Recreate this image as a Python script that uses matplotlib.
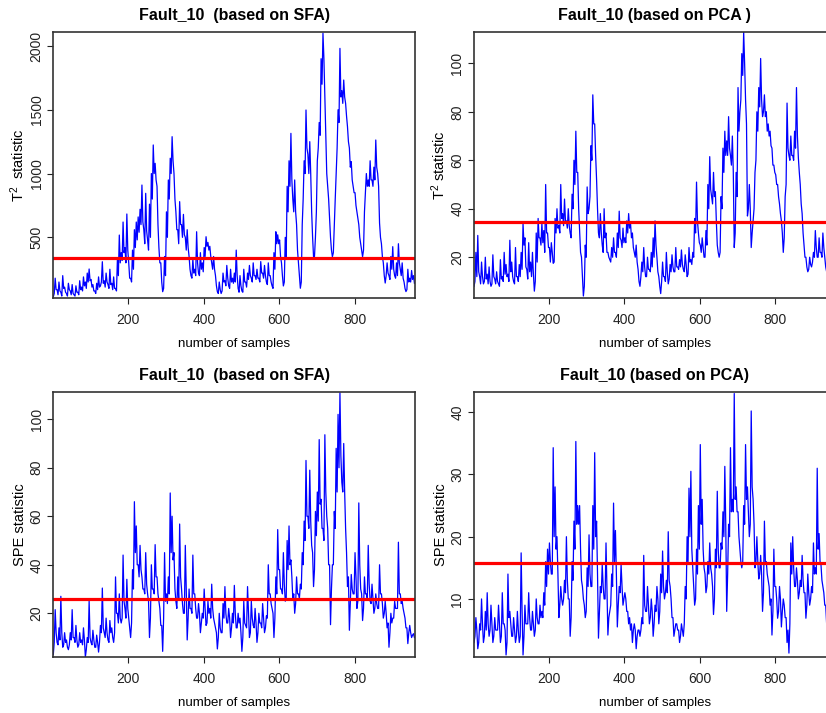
import numpy as np
import matplotlib
matplotlib.use("Agg")
import matplotlib.pyplot as plt

plt.rcParams["font.family"] = ["Liberation Sans", "DejaVu Sans"]

# values: a local peak every 5 samples ...
samples = np.arange(1, 961, 5)
# ... and the local trough half way between them
samples_mid = samples + 2.5

t2_sfa = [
    35, 180, 90, 150, 70, 200, 110, 60, 140, 80, 130, 50,
    120, 70, 160, 110, 190, 150, 220, 252, 170, 130, 80, 140,
    190, 120, 309, 160, 220, 130, 250, 140, 190, 100, 330, 518,
    380, 620, 420, 683, 300, 179, 400, 560, 620, 660, 720, 910,
    560, 845, 480, 760, 1000, 1224, 1080, 900, 420, 300, 74, 350,
    700, 950, 1120, 1289, 1000, 700, 560, 780, 600, 680, 500, 560,
    350, 200, 330, 250, 544, 220, 380, 300, 420, 505, 460, 430,
    300, 350, 200, 74, 150, 60, 220, 160, 280, 120, 250, 180,
    220, 400, 100, 200, 80, 250, 150, 220, 280, 180, 300, 200,
    250, 180, 310, 220, 280, 150, 300, 200, 120, 380, 544, 520,
    480, 300, 119, 500, 900, 1100, 1315, 800, 950, 600, 300, 101,
    600, 1100, 1498, 1150, 1250, 700, 348, 500, 1100, 1400, 1900, 2100,
    1600, 1000, 800, 500, 348, 600, 1000, 1500, 1981, 1650, 1733, 1550,
    1367, 1200, 1093, 900, 850, 700, 600, 450, 348, 700, 1000, 950,
    1100, 950, 1050, 1263, 1000, 612, 450, 300, 142, 300, 200, 350,
    427, 200, 300, 450, 250, 300, 150, 75, 250, 180, 240, 200,
]
t2_sfa_low = [
    60, 90, 50, 80, 40, 100, 70, 40, 90, 50, 60, 40,
    70, 50, 90, 80, 120, 100, 150, 160, 110, 80, 60, 90,
    110, 150, 140, 110, 150, 100, 130, 90, 100, 80, 200, 300,
    320, 380, 300, 400, 180, 150, 250, 420, 480, 540, 600, 620,
    450, 550, 400, 500, 800, 1000, 950, 600, 300, 150, 100, 200,
    500, 800, 1000, 1100, 800, 560, 450, 600, 500, 520, 400, 420,
    250, 180, 220, 200, 300, 200, 250, 230, 350, 430, 400, 350,
    250, 250, 120, 60, 90, 80, 150, 120, 180, 100, 150, 140,
    150, 200, 70, 120, 70, 150, 110, 170, 200, 150, 200, 170,
    180, 150, 220, 180, 200, 130, 200, 150, 100, 250, 450, 450,
    350, 200, 150, 350, 700, 900, 950, 700, 700, 400, 200, 150,
    800, 1000, 1200, 1000, 1000, 500, 350, 700, 1200, 1300, 1700, 1900,
    1300, 900, 650, 400, 380, 800, 1200, 1400, 1600, 1550, 1600, 1450,
    1250, 1050, 950, 850, 750, 650, 500, 400, 400, 850, 900, 900,
    950, 900, 950, 1050, 900, 500, 350, 200, 200, 220, 170, 250,
    250, 180, 200, 300, 200, 180, 100, 90, 150, 150, 170, 140,
]

t2_pca = [
    8, 22, 29, 12, 18, 9, 20, 13, 16, 8, 21, 11,
    14, 9, 19, 12, 22, 17, 13, 27, 18, 10, 24, 12,
    17, 22, 34, 28, 15, 26, 18, 22, 6, 30, 36, 28,
    34, 31, 50, 30, 24, 26, 17.5, 36, 40, 33, 50, 38,
    44, 35, 40, 30, 46, 60, 72, 55, 31, 20, 4, 25,
    49, 40, 66, 87, 75, 52, 30, 38, 25, 40, 30, 22,
    19, 24, 28, 22, 30, 39, 27, 32, 28, 35, 38, 34,
    30, 22, 25, 15, 8, 18, 24, 12, 20, 15, 22, 28,
    35, 20, 12, 5, 18, 12, 22, 9, 17, 21, 14, 24,
    16, 19, 23, 15, 21, 12, 24, 19, 22, 36, 51, 30,
    25, 28, 20, 31, 50, 61.5, 45, 55, 47, 25, 20, 45,
    65, 72, 68, 78, 62, 70, 24, 55, 90, 80, 104, 113,
    85, 37, 50, 24, 35, 55, 80, 90, 102, 78, 87, 80,
    75, 72, 65, 58, 54, 50, 42, 35, 22, 45, 83.6, 62,
    70, 62, 72, 90, 61, 50, 38, 25, 20, 14, 20, 16,
    22, 31, 20, 28, 22, 30, 20, 14, 6.5, 18, 10, 14,
]
t2_pca_low = [
    10, 12, 14, 9, 12, 10, 11, 9, 10, 9, 12, 9,
    10, 8, 11, 10, 13, 12, 10, 14, 12, 9, 12, 10,
    12, 15, 25, 16, 11, 14, 12, 13, 10, 18, 28, 25,
    26, 22, 30, 24, 18, 22, 18, 30, 32, 30, 36, 33,
    35, 32, 33, 28, 40, 50, 55, 40, 22, 12, 8, 20,
    38, 45, 60, 75, 62, 40, 28, 30, 22, 28, 22, 20,
    18, 20, 22, 20, 24, 28, 24, 26, 26, 30, 32, 28,
    24, 20, 18, 10, 12, 14, 16, 12, 15, 14, 16, 20,
    25, 14, 8, 10, 12, 10, 14, 11, 14, 16, 14, 16,
    15, 16, 17, 14, 17, 13, 18, 17, 20, 30, 35, 26,
    22, 24, 20, 25, 40, 48, 42, 45, 35, 22, 22, 40,
    55, 62, 62, 65, 58, 55, 30, 45, 72, 85, 95, 100,
    75, 40, 40, 30, 40, 60, 72, 82, 85, 80, 78, 72,
    70, 66, 58, 55, 50, 45, 38, 30, 28, 50, 65, 60,
    62, 60, 65, 70, 55, 42, 30, 20, 16, 15, 17, 18,
    20, 24, 20, 22, 20, 24, 16, 10, 10, 14, 12, 12,
]

spe_sfa = [
    3, 21.5, 8, 14, 27, 6, 12, 9, 5, 12, 21.5, 10,
    15, 6, 12, 9, 14, 2, 10, 25, 8, 13, 6, 11,
    4, 15, 30.4, 12, 18, 9, 17, 14, 8, 35, 20, 28,
    16, 44, 22, 34, 18, 10, 38, 66, 56, 40, 48, 35,
    30, 45, 28, 10, 40, 30, 48.3, 35, 25, 15, 4.3, 45,
    28, 35, 69.6, 60, 45, 25, 35, 56.8, 30, 20, 48, 9,
    30, 22, 44, 28, 18, 24, 12, 20, 30, 15, 25, 22,
    32, 18, 14, 5.3, 20, 12, 24, 31, 16, 22, 10, 20,
    31.5, 14, 20, 18, 4.3, 25, 15, 31, 10, 25, 15, 22,
    8, 20, 16, 24, 12, 19, 40, 28, 22, 10, 35, 54.5,
    38, 30, 45, 25, 50, 56, 42, 26, 20, 35, 28, 32,
    45, 58, 83, 60, 79, 48, 31, 62, 70, 91.6, 67, 55,
    93.6, 60, 40, 15.3, 40, 62, 88, 102, 110.9, 74, 90, 55,
    31, 13, 36, 28, 45, 22, 65.5, 30, 17, 35, 28, 48,
    25, 32, 20, 28, 22, 40, 28, 18, 25, 14, 6, 20,
    18, 25, 22, 49.3, 28, 25, 20, 14, 7.5, 15, 10, 11.6,
]
spe_sfa_low = [
    8, 12, 7, 9, 12, 7, 8, 6, 7, 9, 10, 8,
    9, 7, 8, 7, 9, 5, 8, 10, 7, 9, 6, 8,
    8, 12, 14, 10, 12, 8, 12, 10, 12, 20, 16, 18,
    18, 25, 18, 22, 14, 16, 30, 45, 40, 35, 38, 30,
    28, 32, 25, 18, 30, 28, 35, 28, 22, 15, 18, 25,
    24, 28, 45, 42, 30, 22, 26, 35, 24, 20, 30, 18,
    22, 20, 28, 22, 18, 20, 16, 18, 22, 16, 20, 18,
    22, 16, 12, 10, 14, 12, 18, 20, 16, 18, 14, 16,
    20, 14, 16, 12, 10, 16, 14, 20, 12, 18, 14, 16,
    12, 16, 14, 18, 14, 18, 28, 24, 20, 18, 28, 38,
    30, 28, 32, 26, 38, 40, 35, 28, 24, 28, 26, 30,
    40, 50, 60, 55, 58, 45, 38, 52, 58, 65, 55, 50,
    70, 55, 40, 30, 40, 55, 70, 80, 85, 70, 70, 45,
    35, 25, 30, 28, 35, 25, 40, 28, 22, 28, 26, 32,
    24, 26, 22, 24, 22, 28, 24, 20, 20, 16, 12, 16,
    18, 22, 22, 28, 24, 22, 18, 14, 12, 12, 11, 10,
]

spe_pca = [
    3, 7, 2, 6, 10, 3, 8, 11, 4, 9, 3, 7,
    5, 9, 3, 11, 6, 1, 14, 8, 4, 7, 3, 8,
    3, 17.4, 1, 9, 6, 11, 5, 8, 4, 10, 6, 9,
    8, 11, 16, 18, 19, 14, 34.3, 28, 20, 7, 12, 9,
    13, 20, 10, 4, 16, 22.5, 35.3, 25, 25, 13, 10, 7,
    15, 20.3, 12, 25, 33.5, 22.5, 3.7, 12, 15.5, 10, 19, 4.2,
    8, 14, 25.4, 21, 5.5, 12, 15.5, 9, 11, 8, 6, 5,
    3, 6, 2, 5, 4, 7, 17, 8, 12, 6, 10, 4,
    9, 12, 6, 14, 17.7, 10, 13, 20.8, 12, 7, 4, 6,
    5, 3, 6, 4, 12, 20, 27.8, 30.5, 15, 9, 18, 25,
    34.8, 26, 15, 11, 16, 19, 14, 7.5, 18, 27.3, 15, 19,
    24, 31.3, 8, 22, 34.3, 26, 43, 28, 24, 18, 15, 25,
    34.8, 28, 20, 40.2, 26, 15, 20, 13.2, 17, 8, 22.5, 16,
    13, 9, 4.2, 18, 12, 6.9, 12, 5.5, 10, 7, 3, 1.3,
    19, 20, 12, 15, 10, 13, 17, 11, 6.9, 14, 9, 12,
    19, 15, 31, 20.5, 15.5, 12, 9, 6, 10, 8, 12, 7,
]
spe_pca_low = [
    4, 5, 3, 5, 6, 4, 5, 6, 5, 6, 4, 5,
    5, 6, 4, 6, 5, 3, 7, 6, 4, 5, 4, 5,
    4, 8, 4, 6, 6, 7, 5, 6, 5, 7, 6, 7,
    7, 9, 12, 14, 16, 14, 20, 18, 14, 9, 10, 10,
    11, 13, 10, 7, 13, 18, 22, 22, 18, 12, 9, 8,
    12, 14, 12, 18, 20, 14, 8, 11, 12, 10, 12, 7,
    9, 12, 16, 14, 9, 11, 12, 10, 10, 8, 7, 6,
    5, 5, 4, 5, 5, 6, 9, 8, 9, 7, 8, 6,
    8, 10, 8, 11, 12, 11, 11, 13, 10, 7, 5, 6,
    5, 4, 5, 6, 10, 16, 20, 18, 12, 10, 14, 18,
    22, 18, 14, 12, 14, 15, 12, 10, 15, 18, 15, 18,
    20, 22, 14, 20, 24, 24, 26, 24, 20, 16, 16, 22,
    26, 24, 22, 28, 22, 16, 16, 14, 14, 11, 16, 14,
    12, 10, 8, 12, 10, 8, 10, 8, 9, 7, 5, 6,
    14, 15, 12, 13, 11, 12, 13, 11, 9, 11, 10, 11,
    14, 14, 18, 16, 13, 11, 9, 8, 9, 8, 9, 8,
]

limits = [340, 34.6, 25.8, 15.7]
ylims = [(27, 2107), (3.3, 112.8), (2.1, 111.1), (0.72, 43.2)]
yticks = [[500, 1000, 1500, 2000], [20, 40, 60, 80, 100],
          [20, 40, 60, 80, 100], [10, 20, 30, 40]]
titles = ["Fault_10  (based on SFA)", "Fault_10 (based on PCA )",
          "Fault_10  (based on SFA)", "Fault_10 (based on PCA)"]
ylabels = [r"$\mathregular{T^2}$  statistic", r"$\mathregular{T^2}$ statistic",
           "SPE statistic", "SPE statistic"]

W, H = 826, 713


def px_rect(left, top, width, height):
    return [left / W, 1 - (top + height) / H, width / W, height / H]


def interleave(peaks, lows):
    x = np.empty(2 * len(samples))
    y = np.empty(2 * len(samples))
    x[0::2], x[1::2] = samples, samples_mid
    y[0::2], y[1::2] = peaks, lows
    return x, y


def draw_panel(fig, rect, peaks, lows, limit, ylim, ticks, title, ylabel):
    ax = fig.add_axes(rect)
    x, y = interleave(peaks, lows)
    ax.plot(x, y, color="#0000ff", lw=0.9)
    ax.axhline(limit, color="#ff0000", lw=2.3)
    ax.set_xlim(1, 960)
    ax.set_ylim(*ylim)
    ax.set_xticks([200, 400, 600, 800])
    ax.set_yticks(ticks)
    ax.tick_params(direction="out", length=4, width=0.8, labelsize=10, colors="#222222")
    ax.tick_params(axis="x", pad=7)
    ax.tick_params(axis="y", pad=3)
    for lab in ax.get_yticklabels():
        lab.set_rotation(90)
        lab.set_va("center")
    for sp in ax.spines.values():
        sp.set_color("#333333")
        sp.set_linewidth(1.2)
    ax.set_title(title, fontsize=11.5, fontweight="bold", pad=9)
    ax.set_xlabel("number of samples", fontsize=9.5, labelpad=8)
    ax.set_ylabel(ylabel, fontsize=10.5, labelpad=1.5)
    return ax


fig = plt.figure(figsize=(W / 100, H / 100), dpi=100)

peaks = [t2_sfa, t2_pca, spe_sfa, spe_pca]
lows = [t2_sfa_low, t2_pca_low, spe_sfa_low, spe_pca_low]
rects = [px_rect(53.3, 32.3, 361.7, 265.4), px_rect(474, 32.3, 361.7, 265.4),
         px_rect(53.3, 392.3, 361.7, 264.4), px_rect(474, 392.3, 361.7, 264.4)]

for i in range(4):
    draw_panel(fig, rects[i], peaks[i], lows[i], limits[i], ylims[i], yticks[i], titles[i], ylabels[i])

fig.savefig("out.png", dpi=100)
